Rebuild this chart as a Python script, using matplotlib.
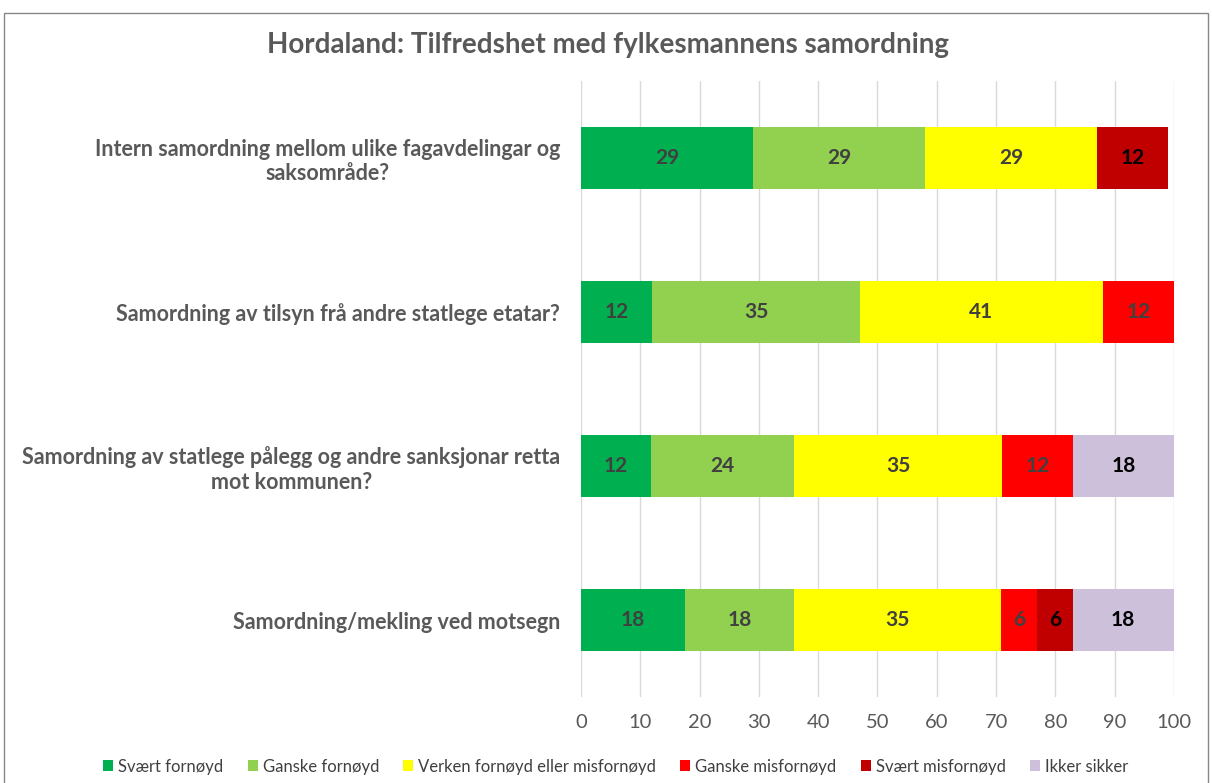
import matplotlib.pyplot as plt
from matplotlib.patches import Rectangle

plt.rcParams['font.family'] = ['Lato', 'DejaVu Sans']

categories = ['Intern samordning mellom ulike fagavdelingar og\nsaksområde?',
              'Samordning av tilsyn frå andre statlege etatar?',
              'Samordning av statlege pålegg og andre sanksjonar retta\nmot kommunen?',
              'Samordning/mekling ved motsegn']
series = ['Svært fornøyd', 'Ganske fornøyd', 'Verken fornøyd eller misfornøyd',
          'Ganske misfornøyd', 'Svært misfornøyd', 'Ikker sikker']
svaert_fornoyd = [29, 12, 11.8, 17.6]
ganske_fornoyd = [29, 35, 24.2, 18.3]
verken = [29, 41, 35, 35]
ganske_misfornoyd = [0, 12, 12, 6]
svaert_misfornoyd = [12, 0, 0, 6]
ikke_sikker = [0, 0, 17.6, 17.6]
values = [svaert_fornoyd, ganske_fornoyd, verken, ganske_misfornoyd, svaert_misfornoyd, ikke_sikker]
colors = ['#00B050', '#92D050', '#FFFF00', '#FF0000', '#C00000', '#CCC0DA']
label_colors = ['#404040', '#404040', '#404040', '#404040', 'black', 'black']

fig = plt.figure(figsize=(12.12, 7.83), dpi=100)
ax = fig.add_axes([0.4794, 0.1098, 0.4892, 0.7868])

y = list(range(len(categories)))
left = [0] * len(categories)
for name, vals, c, lc in zip(series, values, colors, label_colors):
    bars = ax.barh(y, vals, left=left, height=0.4, color=c, label=name, zorder=3)
    for b, v in zip(bars, vals):
        if v > 0:
            # keep the label inside the visible 0-100 range
            x0 = b.get_x()
            x1 = min(x0 + b.get_width(), 100)
            ax.text((x0 + x1) / 2, b.get_y() + b.get_height() / 2,
                    '%.0f' % v, ha='center', va='center', fontsize=15,
                    fontweight='bold', color=lc, zorder=4)
    left = [l + v for l, v in zip(left, vals)]

ax.set_xlim(0, 100)
ax.set_ylim(3.5, -0.5)
ax.set_xticks(range(0, 101, 10))
ax.set_yticks(y)
ax.set_yticklabels(categories, fontsize=15.5, fontweight='bold', color='#595959',
                   ha='right', multialignment='center')
ax.tick_params(axis='y', length=0, pad=15)
ax.tick_params(axis='x', length=0, labelsize=14.5, labelcolor='#595959', pad=12)
ax.grid(axis='x', color='#d9d9d9', linewidth=1, zorder=0)
for s in ax.spines.values():
    s.set_visible(False)

fig.text(0.502, 0.943, 'Hordaland: Tilfredshet med fylkesmannens samordning',
         ha='center', va='center', fontsize=20, fontweight='bold', color='#595959')

fig.legend(loc='center', bbox_to_anchor=(0.508, 0.021), ncol=6, frameon=False,
           fontsize=12, handlelength=0.6, handleheight=0.6, handletextpad=0.3,
           columnspacing=1.45, labelcolor='#404040')

fig.patches.append(Rectangle((0.003, -0.05), 0.994, 1.033, transform=fig.transFigure,
                             fill=False, edgecolor='#888888', linewidth=1))

fig.savefig('out.png', dpi=100)
